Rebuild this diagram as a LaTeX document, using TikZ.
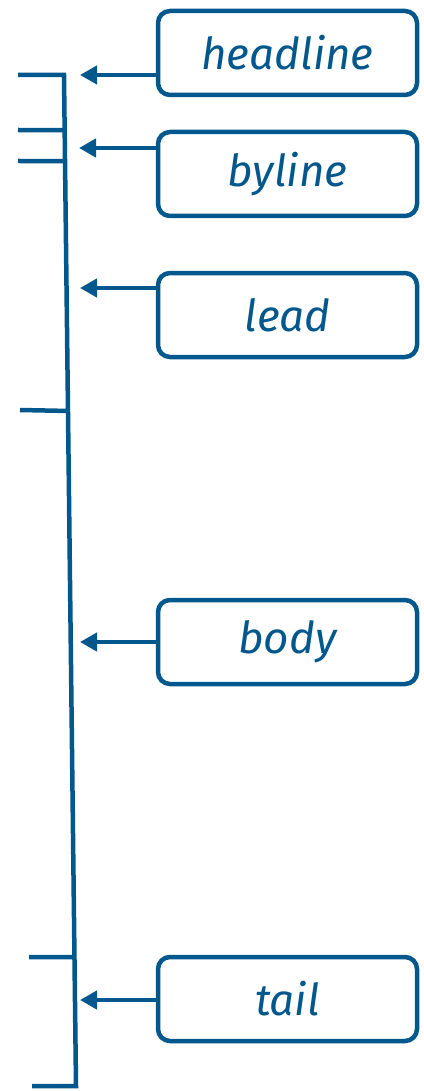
\documentclass[tikz,border=0pt]{standalone}
\usepackage{fontspec}
\setmainfont{Fira Sans}
\usetikzlibrary{arrows.meta,calc}
\definecolor{navy}{RGB}{2,88,140}
\tikzset{
  lab/.style={draw=navy, line width=4.5pt, rounded corners=12pt, minimum width=259pt, minimum height=84pt,
    inner sep=0pt, text=navy, font=\fontsize{44}{48}\selectfont\itshape},
  bar/.style={draw=navy, line width=4.5pt, line join=miter},
  pointer/.style={draw=navy, line width=4.5pt, -{Triangle[length=17pt,width=18pt]}}
}
\begin{document}
\begin{tikzpicture}[x=1pt,y=-1pt]
\useasboundingbox (0,0) rectangle (423,1091);
% bracket line
\coordinate (top) at (64,75);
\coordinate (bot) at (76,1086);
\coordinate (tl) at (18,75);
\coordinate (bl) at (32,1086);
\draw[bar] (tl) -- (top) -- (bot) -- (bl);
% ticks
\coordinate (t1) at ($(top)!0.0545!(bot)$);
\coordinate (t2) at ($(top)!0.0851!(bot)$);
\coordinate (t3) at ($(top)!0.3323!(bot)$);
\coordinate (t4) at ($(top)!0.8724!(bot)$);
\coordinate (l1) at (18,130);
\coordinate (l2) at (18,161);
\coordinate (l3) at (20,410);
\coordinate (l4) at (29,957);
\draw[bar] (l1) -- (t1);
\draw[bar] (l2) -- (t2);
\draw[bar] (l3) -- (t3);
\draw[bar] (l4) -- (t4);
% boxes
\node[lab] (headline) at (287.5,53) {headline};
\node[lab] (byline) at (287.5,174) {byline};
\node[lab] (lead) at (287.5,315) {lead};
\node[lab] (body) at (287.5,642) {body};
\node[lab] (tail) at (287.5,999) {tail};
% arrow tips
\coordinate (a1) at (80,75);
\coordinate (a2) at (79,148);
\coordinate (a3) at (80,288);
\coordinate (a4) at (80,642);
\coordinate (a5) at (80,1000);
\draw[pointer] (headline.west |- a1) -- (a1);
\draw[pointer] (byline.west |- a2) -- (a2);
\draw[pointer] (lead.west |- a3) -- (a3);
\draw[pointer] (body.west |- a4) -- (a4);
\draw[pointer] (tail.west |- a5) -- (a5);
\end{tikzpicture}
\end{document}
